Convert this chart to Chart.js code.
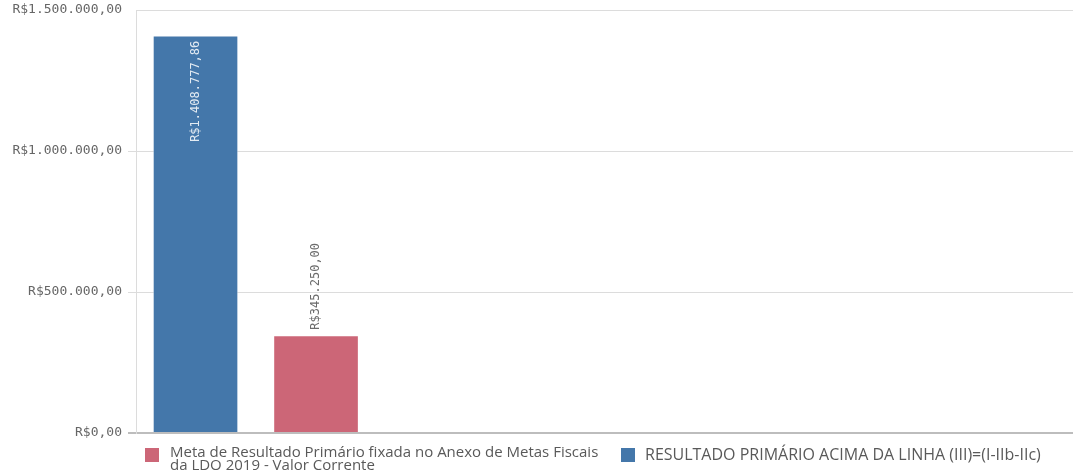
<!DOCTYPE html>
<html>
<head>
<meta charset="utf-8">
<script src="https://cdn.jsdelivr.net/npm/chart.js@4/dist/chart.umd.min.js"></script>
<style>
  html, body { margin: 0; padding: 0; background: #ffffff; }
  #wrap { width: 1073px; height: 474px; position: relative; }
</style>
</head>
<body>
<div id="wrap"><canvas id="c" width="1073" height="474"></canvas></div>
<script>
// ---- data ----
const seriesNames = [
  'Meta de Resultado Primário fixada no Anexo de Metas Fiscais da LDO 2019 - Valor Corrente',
  'RESULTADO PRIMÁRIO ACIMA DA LINHA (III)=(I-IIb-IIc)'
];
const legendLines = [
  ['Meta de Resultado Primário fixada no Anexo de Metas Fiscais', 'da LDO 2019 - Valor Corrente'],
  ['RESULTADO PRIMÁRIO ACIMA DA LINHA (III)=(I-IIb-IIc)']
];
const seriesValues = [345250.00, 1408777.86];
const barSlots = [2, 1];           // order of bars on the axis (RESULTADO first, Meta second)
const seriesColors = ['#cc6677', '#4477aa'];
const yTicks = [0, 500000, 1000000, 1500000];

const fmt = v => 'R$' + v.toLocaleString('pt-BR', { minimumFractionDigits: 2, maximumFractionDigits: 2 });

const valueLabels = {
  id: 'valueLabels',
  afterDatasetsDraw(chart) {
    const ctx = chart.ctx;
    ctx.save();
    ctx.font = '12px "DejaVu Sans Mono"';
    chart.data.datasets.forEach((ds, di) => {
      const meta = chart.getDatasetMeta(di);
      meta.data.forEach((el, i) => {
        const v = ds.data[i].y;
        const txt = fmt(v);
        const w = ctx.measureText(txt).width;
        const h = el.base - el.y;
        ctx.save();
        if (h > w + 20) {
          ctx.translate(el.x, el.y + 5);
          ctx.rotate(-Math.PI / 2);
          ctx.textAlign = 'right';
          ctx.textBaseline = 'middle';
          ctx.fillStyle = 'rgba(255,255,255,0.85)';
        } else {
          ctx.translate(el.x, el.y - 6);
          ctx.rotate(-Math.PI / 2);
          ctx.textAlign = 'left';
          ctx.textBaseline = 'middle';
          ctx.fillStyle = '#6b6b6b';
        }
        ctx.fillText(txt, 0, 0);
        ctx.restore();
      });
    });
    ctx.restore();
  }
};

const customLegend = {
  id: 'customLegend',
  afterDraw(chart) {
    const ctx = chart.ctx;
    ctx.save();
    ctx.textBaseline = 'middle';
    ctx.textAlign = 'left';
    const starts = [145, 621];
    chart.data.datasets.forEach((ds, di) => {
      const x = starts[di];
      ctx.fillStyle = ds.backgroundColor;
      ctx.fillRect(x, 448, 14, 14);
      ctx.fillStyle = '#595959';
      const lines = legendLines[di];
      if (lines.length === 1) {
        ctx.font = '16px "Open Sans"';
        ctx.fillText(lines[0], x + 24, 455);
      } else {
        ctx.font = '15px "Open Sans"';
        ctx.fillText(lines[0], x + 25, 453);
        ctx.fillText(lines[1], x + 25, 466);
      }
    });
    ctx.restore();
  }
};

new Chart(document.getElementById('c'), {
  type: 'bar',
  data: {
    datasets: seriesNames.map((name, i) => ({
      label: name,
      data: [{ x: barSlots[i], y: seriesValues[i] }],
      backgroundColor: seriesColors[i],
      borderColor: 'rgba(255,255,255,0.35)',
      borderWidth: 1,
      barThickness: 85,
      grouped: false
    }))
  },
  options: {
    responsive: false,
    devicePixelRatio: 1,
    animation: false,
    layout: { padding: { top: 10, bottom: 41, left: 0, right: 0 } },
    plugins: { legend: { display: false }, tooltip: { enabled: false } },
    scales: {
      x: {
        type: 'linear',
        display: false,
        offset: false,
        min: 0.506,
        max: 8.282
      },
      y: {
        min: 0,
        max: 1500000,
        afterBuildTicks: s => { s.ticks = yTicks.map(v => ({ value: v })); },
        afterFit: s => { s.width = 136; s.paddingTop = 0; s.paddingBottom = 0; },
        border: { display: true, color: '#dcdcdc', width: 1 },
        grid: {
          color: c => c.tick && c.tick.value === 0 ? '#bdbdbd' : '#dcdcdc',
          lineWidth: c => c.tick && c.tick.value === 0 ? 2 : 1,
          tickLength: 8,
          tickColor: c => c.tick && c.tick.value === 1500000 ? 'rgba(0,0,0,0)' : (c.tick && c.tick.value === 0 ? '#bdbdbd' : '#dcdcdc')
        },
        ticks: {
          padding: 6,
          color: '#666666',
          font: { family: 'DejaVu Sans Mono', size: 13 },
          callback: v => fmt(v)
        }
      }
    }
  },
  plugins: [valueLabels, customLegend]
});
</script>
</body>
</html>
